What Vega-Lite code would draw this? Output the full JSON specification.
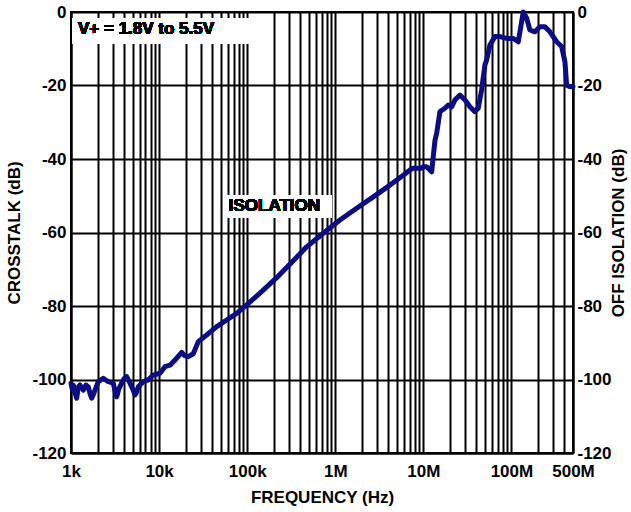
{
  "$schema": "https://vega.github.io/schema/vega-lite/v6.json",
  "width": 502,
  "height": 441,
  "autosize": "none",
  "padding": {"left": 71, "top": 12, "right": 58, "bottom": 59},
  "background": "white",
  "config": {
    "font": "Liberation Sans",
    "view": {"stroke": "black", "strokeWidth": 2},
    "axis": {
      "labelFont": "Liberation Sans", "labelFontWeight": "bold", "labelFontSize": 17, "labelColor": "black",
      "titleFont": "Liberation Sans", "titleFontWeight": "bold", "titleFontSize": 17, "titleColor": "black",
      "domainColor": "black", "domainWidth": 2, "gridColor": "black", "gridWidth": 2, "gridOpacity": 1,
      "ticks": false, "tickSize": 0, "labelOverlap": false, "labelBound": false, "labelFlush": false
    }
  },
  "data": {"values": [
    {"f": 1000, "db": -101.0}, {"f": 1030, "db": -102.5}, {"f": 1062, "db": -101.5}, {"f": 1110, "db": -103.5},
    {"f": 1161, "db": -105.1}, {"f": 1210, "db": -102.0}, {"f": 1265, "db": -101.5}, {"f": 1380, "db": -102.9},
    {"f": 1480, "db": -101.5}, {"f": 1572, "db": -102.0}, {"f": 1650, "db": -104.0}, {"f": 1717, "db": -105.1},
    {"f": 1800, "db": -104.0}, {"f": 1872, "db": -102.9}, {"f": 2041, "db": -100.6}, {"f": 2326, "db": -99.7},
    {"f": 2500, "db": -100.2}, {"f": 2651, "db": -100.6}, {"f": 3020, "db": -101.0}, {"f": 3150, "db": -103.0},
    {"f": 3302, "db": -104.7}, {"f": 3500, "db": -102.5}, {"f": 3761, "db": -101.0}, {"f": 4000, "db": -99.8},
    {"f": 4285, "db": -99.2}, {"f": 4674, "db": -101.0}, {"f": 5000, "db": -102.5}, {"f": 5326, "db": -104.2},
    {"f": 5550, "db": -103.5}, {"f": 5803, "db": -102.0}, {"f": 6617, "db": -100.6}, {"f": 7537, "db": -100.1},
    {"f": 8590, "db": -98.8}, {"f": 10233, "db": -98.3}, {"f": 11660, "db": -96.5}, {"f": 13300, "db": -96.1},
    {"f": 15140, "db": -94.7}, {"f": 18060, "db": -92.6}, {"f": 19500, "db": -93.5}, {"f": 21440, "db": -93.8},
    {"f": 24430, "db": -93.0}, {"f": 27860, "db": -89.7}, {"f": 34670, "db": -87.9}, {"f": 45080, "db": -85.6},
    {"f": 58480, "db": -83.8}, {"f": 76000, "db": -82.0}, {"f": 98640, "db": -79.7}, {"f": 139700, "db": -76.5},
    {"f": 216300, "db": -72.3}, {"f": 339600, "db": -67.5}, {"f": 473200, "db": -63.9}, {"f": 730800, "db": -60.2},
    {"f": 1130000, "db": -56.6}, {"f": 1749000, "db": -53.4}, {"f": 2700000, "db": -50.3}, {"f": 4178000, "db": -47.1},
    {"f": 5916000, "db": -44.4}, {"f": 7047000, "db": -43.0}, {"f": 7680000, "db": -42.5}, {"f": 8390000, "db": -42.5},
    {"f": 9570000, "db": -42.5}, {"f": 9980000, "db": -42.1}, {"f": 10900000, "db": -42.1}, {"f": 11880000, "db": -43.0},
    {"f": 12420000, "db": -43.5}, {"f": 12950000, "db": -39.4}, {"f": 13540000, "db": -35.0}, {"f": 14170000, "db": -33.0},
    {"f": 15430000, "db": -27.1}, {"f": 17580000, "db": -26.2}, {"f": 19180000, "db": -25.3}, {"f": 20960000, "db": -25.8},
    {"f": 22850000, "db": -23.9}, {"f": 26020000, "db": -22.6}, {"f": 29650000, "db": -23.9}, {"f": 33780000, "db": -25.8},
    {"f": 38500000, "db": -27.1}, {"f": 41990000, "db": -26.2}, {"f": 45870000, "db": -21.2}, {"f": 50020000, "db": -14.4},
    {"f": 52260000, "db": -13.1}, {"f": 56990000, "db": -9.0}, {"f": 64970000, "db": -6.7}, {"f": 74050000, "db": -6.7},
    {"f": 88290000, "db": -7.2}, {"f": 105000000, "db": -7.2}, {"f": 119500000, "db": -8.1}, {"f": 124900000, "db": -5.4},
    {"f": 136200000, "db": 0.0}, {"f": 148900000, "db": -1.7}, {"f": 162200000, "db": -4.9}, {"f": 184900000, "db": -5.4},
    {"f": 210600000, "db": -4.0}, {"f": 240000000, "db": -4.0}, {"f": 273500000, "db": -5.4}, {"f": 326000000, "db": -8.1},
    {"f": 371500000, "db": -9.4}, {"f": 404800000, "db": -13.5}, {"f": 423600000, "db": -19.9}, {"f": 461700000, "db": -20.3},
    {"f": 500000000, "db": -20.3}
  ]},
  "resolve": {"axis": {"x": "independent", "y": "independent"}},
  "layer": [
    {
      "mark": {"type": "rect", "fill": "white"},
      "encoding": {
        "x": {"datum": 1040, "type": "quantitative", "scale": {"type": "log", "domain": [1000, 500000000], "nice": false}, "axis": null},
        "x2": {"datum": 115000},
        "y": {"datum": -1.6, "type": "quantitative", "scale": {"domain": [-120, 0], "nice": false}, "axis": null},
        "y2": {"datum": -8.7}
      }
    },
    {
      "mark": {"type": "rect", "fill": "white"},
      "encoding": {
        "x": {"datum": 59000, "type": "quantitative", "scale": {"type": "log", "domain": [1000, 500000000], "nice": false}, "axis": null},
        "x2": {"datum": 918000},
        "y": {"datum": -49.8, "type": "quantitative", "scale": {"domain": [-120, 0], "nice": false}, "axis": null},
        "y2": {"datum": -56.0}
      }
    },
    {
      "mark": {"type": "line", "color": "#0c0c85", "strokeWidth": 5, "strokeJoin": "round", "strokeCap": "round"},
      "encoding": {
        "x": {
          "field": "f", "type": "quantitative",
          "scale": {"type": "log", "domain": [1000, 500000000], "nice": false},
          "axis": {
            "title": "FREQUENCY (Hz)", "grid": true, "domain": true, "labelPadding": 10, "titlePadding": 10,
            "values": [1000, 2000, 3000, 4000, 5000, 6000, 7000, 8000, 9000,
                       10000, 20000, 30000, 40000, 50000, 60000, 70000, 80000, 90000,
                       100000, 200000, 300000, 400000, 500000, 600000, 700000, 800000, 900000,
                       1000000, 2000000, 3000000, 4000000, 5000000, 6000000, 7000000, 8000000, 9000000,
                       10000000, 20000000, 30000000, 40000000, 50000000, 60000000, 70000000, 80000000, 90000000,
                       100000000, 200000000, 300000000, 400000000, 500000000],
            "labelExpr": "datum.value == 1000 ? '1k' : datum.value == 10000 ? '10k' : datum.value == 100000 ? '100k' : datum.value == 1000000 ? '1M' : datum.value == 10000000 ? '10M' : datum.value == 100000000 ? '100M' : datum.value == 500000000 ? '500M' : ''"
          }
        },
        "y": {
          "field": "db", "type": "quantitative",
          "scale": {"domain": [-120, 0], "nice": false},
          "axis": {"title": "CROSSTALK (dB)", "orient": "left", "grid": true, "values": [-120, -100, -80, -60, -40, -20, 0], "labelExpr": "'' + datum.value", "labelPadding": 5, "titlePadding": 8}
        }
      }
    },
    {
      "mark": {"type": "text", "text": "V+ = 1.8V to 5.5V", "align": "left", "baseline": "middle", "font": "Liberation Sans", "fontWeight": "bold", "fontSize": 17, "fill": "black"},
      "encoding": {
        "x": {"datum": 1201, "type": "quantitative", "scale": {"type": "log", "domain": [1000, 500000000], "nice": false}, "axis": null},
        "y": {"datum": -4.6, "type": "quantitative", "scale": {"domain": [-120, 0], "nice": false},
          "axis": {"title": "OFF ISOLATION (dB)", "orient": "right", "grid": false, "domain": true, "titleAngle": 270, "values": [-120, -100, -80, -60, -40, -20, 0], "labelExpr": "'' + datum.value", "labelPadding": 4, "titlePadding": 16}}
      }
    },
    {
      "mark": {"type": "text", "text": "ISOLATION", "align": "center", "baseline": "middle", "font": "Liberation Sans", "fontWeight": "bold", "fontSize": 17, "fill": "black"},
      "encoding": {
        "x": {"datum": 204000, "type": "quantitative", "scale": {"type": "log", "domain": [1000, 500000000], "nice": false}, "axis": null},
        "y": {"datum": -52.9, "type": "quantitative", "scale": {"domain": [-120, 0], "nice": false}, "axis": null}
      }
    }
  ]
}
